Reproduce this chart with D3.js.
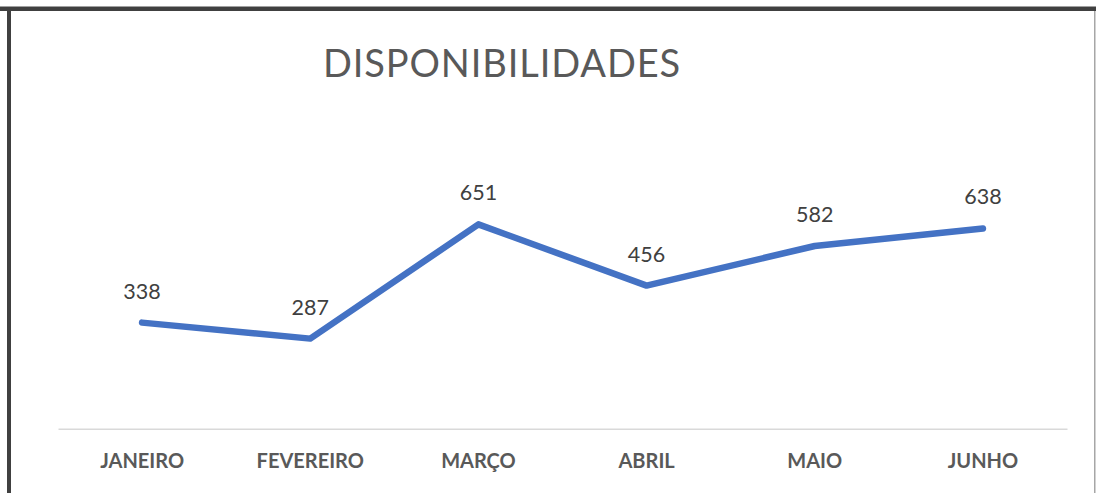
<!DOCTYPE html>
<html><head><meta charset="utf-8">
<script src="https://cdn.jsdelivr.net/npm/d3@7"></script>
<style>body{margin:0;background:#fff;}svg{display:block;}</style>
</head><body>
<script>
const months = ["JANEIRO","FEVEREIRO","MARÇO","ABRIL","MAIO","JUNHO"];
const values = [338, 287, 651, 456, 582, 638];
const title = "DISPONIBILIDADES";

const W = 1096, H = 493;
const svg = d3.select("body").append("svg").attr("width", W).attr("height", H);
svg.append("rect").attr("width", W).attr("height", H).attr("fill", "#fff");

// frame
svg.append("rect").attr("x", 0).attr("y", 6).attr("width", W).attr("height", 1).attr("fill", "#a0a0a0");
svg.append("rect").attr("x", 0).attr("y", 7).attr("width", W).attr("height", 4).attr("fill", "#404040");
svg.append("rect").attr("x", 7).attr("y", 7).attr("width", 4).attr("height", H).attr("fill", "#404040");
svg.append("rect").attr("x", 1094).attr("y", 11).attr("width", 1.5).attr("height", H).attr("fill", "#a6a6a6");

const x = d3.scaleBand().domain(months).range([58, 1067]);
const y = d3.scaleLinear().domain([0, 700]).range([428.7, 209]);

const font = "Lato, 'Open Sans', sans-serif";

svg.append("text").attr("x", 502).attr("y", 77).attr("text-anchor", "middle")
  .attr("font-family", font).attr("font-size", 38).attr("letter-spacing", 0.9)
  .attr("fill", "#595959").text(title);

const xAxis = svg.append("g").attr("transform", "translate(0,428.7)")
  .call(d3.axisBottom(x).tickSize(0).tickPadding(0));
xAxis.select(".domain").attr("stroke", "#d9d9d9").attr("stroke-width", 1.5);
xAxis.selectAll("text").attr("font-family", font).attr("font-size", 20).attr("font-weight", "bold")
  .attr("fill", "#595959").attr("dy", null).attr("y", 39.3);

const line = d3.line().x((d, i) => x(months[i]) + x.bandwidth() / 2).y(d => y(d));
svg.append("path").datum(values).attr("d", line).attr("fill", "none")
  .attr("stroke", "#4472C4").attr("stroke-width", 6.5).attr("stroke-linecap", "round").attr("stroke-linejoin", "round");

svg.selectAll("text.lbl").data(values).enter().append("text").attr("class", "lbl")
  .attr("x", (d, i) => x(months[i]) + x.bandwidth() / 2).attr("y", d => y(d) - 24)
  .attr("text-anchor", "middle").attr("font-family", font).attr("font-size", 21.5)
  .attr("fill", "#404040").text(d => d);
</script>
</body></html>
